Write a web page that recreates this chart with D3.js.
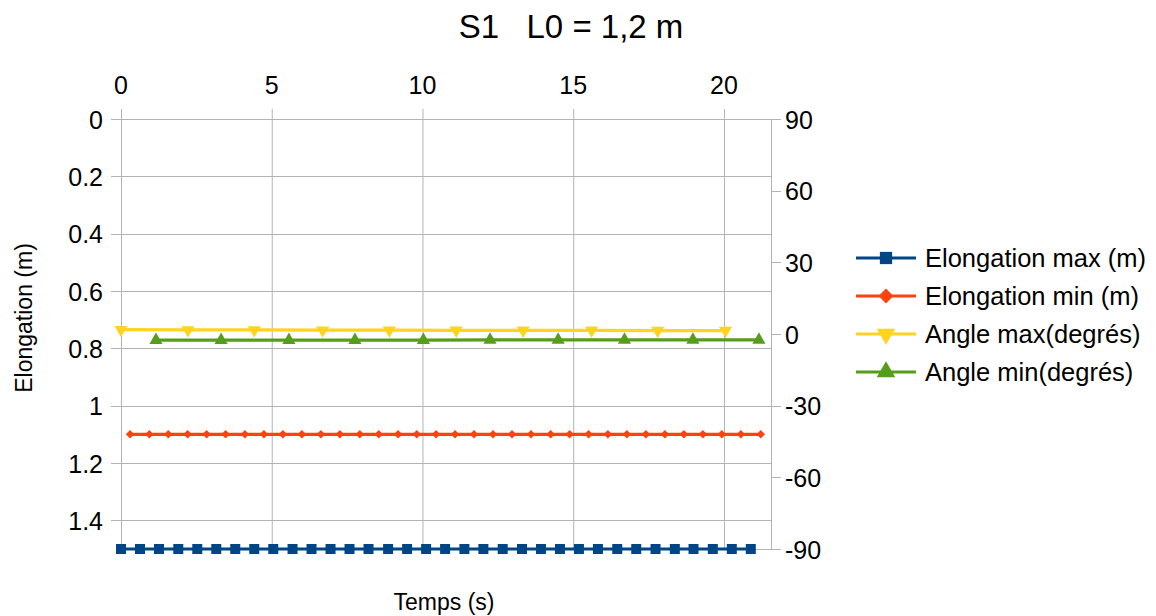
<!DOCTYPE html>
<html>
<head>
<meta charset="utf-8">
<script src="https://cdn.jsdelivr.net/npm/d3@7"></script>
<style>
  body { margin: 0; background: #fff; }
  text { font-family: "Liberation Sans", Arial, sans-serif; fill: #000; }
</style>
</head>
<body>
<svg id="chart" width="1156" height="616"></svg>
<script>
// series: time (s) and value
const elongMaxT = [0, 0.63, 1.26, 1.90, 2.53, 3.16, 3.79, 4.42, 5.05, 5.69, 6.32, 6.95, 7.58, 8.21, 8.86, 9.49, 10.12,
    10.75, 11.39, 12.02, 12.66, 13.30, 13.93, 14.56, 15.19, 15.82, 16.46, 17.09, 17.73, 18.37, 18.99, 19.63, 20.26, 20.89];
const elongMaxV = [1.5, 1.5, 1.5, 1.5, 1.5, 1.5, 1.5, 1.5, 1.5, 1.5, 1.5, 1.5, 1.5, 1.5, 1.5, 1.5, 1.5,
    1.5, 1.5, 1.5, 1.5, 1.5, 1.5, 1.5, 1.5, 1.5, 1.5, 1.5, 1.5, 1.5, 1.5, 1.5, 1.5, 1.5];
const elongMinT = [0.30, 0.94, 1.57, 2.21, 2.84, 3.47, 4.11, 4.74, 5.37, 6.00, 6.63, 7.26, 7.92, 8.55, 9.19, 9.81, 10.45,
    11.08, 11.71, 12.34, 12.97, 13.60, 14.25, 14.88, 15.51, 16.15, 16.78, 17.41, 18.04, 18.67, 19.30, 19.93, 20.56, 21.22];
const elongMinV = [1.1, 1.1, 1.1, 1.1, 1.1, 1.1, 1.1, 1.1, 1.1, 1.1, 1.1, 1.1, 1.1, 1.1, 1.1, 1.1, 1.1,
    1.1, 1.1, 1.1, 1.1, 1.1, 1.1, 1.1, 1.1, 1.1, 1.1, 1.1, 1.1, 1.1, 1.1, 1.1, 1.1, 1.1];
const angleMaxT = [0, 2.22, 4.42, 6.69, 8.90, 11.12, 13.34, 15.61, 17.80, 20.05];
const angleMaxV = [1.8, 1.7, 1.7, 1.6, 1.6, 1.5, 1.5, 1.5, 1.4, 1.4];
const angleMinT = [1.16, 3.32, 5.57, 7.76, 10.03, 12.24, 14.50, 16.70, 18.97, 21.16];
const angleMinV = [-2.6, -2.6, -2.6, -2.6, -2.6, -2.5, -2.5, -2.5, -2.5, -2.5];

const xTicks = [0, 5, 10, 15, 20];
const leftTicks = [0, 0.2, 0.4, 0.6, 0.8, 1, 1.2, 1.4];
const rightTicks = [90, 60, 30, 0, -30, -60, -90];

const svg = d3.select("#chart");

// plot area
const pLeft = 121, pRight = 771, pTop = 119, pBottom = 549;

const x = d3.scaleLinear().domain([0, 21.56]).range([pLeft, pRight]);
const yL = d3.scaleLinear().domain([0, 1.5]).range([pTop, pBottom]);
const yR = d3.scaleLinear().domain([90, -90]).range([pTop, pBottom]);

// title
svg.append("text")
    .attr("x", 571).attr("y", 38)
    .attr("text-anchor", "middle")
    .attr("font-size", "33px")
    .style("white-space", "pre")
    .text("S1   L0 = 1,2 m");

// grid
const grid = svg.append("g").attr("stroke", "#b3b3b3").attr("stroke-width", 1);
xTicks.forEach(t => {
    grid.append("line").attr("x1", x(t) + 0.5).attr("x2", x(t) + 0.5).attr("y1", pTop - 10).attr("y2", pBottom);
});
leftTicks.forEach(t => {
    grid.append("line").attr("x1", pLeft - 10).attr("x2", pRight).attr("y1", Math.round(yL(t)) + 0.5).attr("y2", Math.round(yL(t)) + 0.5);
});
rightTicks.forEach(t => {
    grid.append("line").attr("x1", pRight).attr("x2", pRight + 10).attr("y1", Math.round(yR(t)) + 0.5).attr("y2", Math.round(yR(t)) + 0.5);
});
// frame
grid.append("line").attr("x1", pLeft + 0.5).attr("x2", pLeft + 0.5).attr("y1", pTop).attr("y2", pBottom);
grid.append("line").attr("x1", pRight + 0.5).attr("x2", pRight + 0.5).attr("y1", pTop).attr("y2", pBottom);
grid.append("line").attr("x1", pLeft).attr("x2", pRight + 10).attr("y1", pBottom + 0.5).attr("y2", pBottom + 0.5);

// tick labels
const fmt = d => String(d);
svg.append("g").selectAll("text").data(xTicks).join("text")
    .attr("x", d => x(d)).attr("y", 94)
    .attr("text-anchor", "middle").attr("font-size", "25px")
    .text(fmt);
svg.append("g").selectAll("text").data(leftTicks).join("text")
    .attr("x", 103).attr("y", d => yL(d) + 9.5)
    .attr("text-anchor", "end").attr("font-size", "25px")
    .text(fmt);
svg.append("g").selectAll("text").data(rightTicks).join("text")
    .attr("x", 785).attr("y", d => yR(d) + 9.5)
    .attr("text-anchor", "start").attr("font-size", "25px")
    .text(fmt);

// axis titles
svg.append("text")
    .attr("transform", "translate(32, 318) rotate(-90)")
    .attr("text-anchor", "middle").attr("font-size", "23px")
    .text("Elongation (m)");
svg.append("text")
    .attr("x", 444).attr("y", 610)
    .attr("text-anchor", "middle").attr("font-size", "23px")
    .text("Temps (s)");

// series (diamond = square turned 45°)
const series = [
    { name: "Elongation max (m)", t: elongMaxT, v: elongMaxV, y: yL, color: "#004586", marker: d3.symbolSquare, size: 100, rot: 0, lsize: 150 },
    { name: "Elongation min (m)", t: elongMinT, v: elongMinV, y: yL, color: "#ff420e", marker: d3.symbolSquare, size: 36, rot: 45, lsize: 110 },
    { name: "Angle max(degrés)", t: angleMaxT, v: angleMaxV, y: yR, color: "#ffd320", marker: d3.symbolTriangle, size: 75, rot: 180, lsize: 150 },
    { name: "Angle min(degrés)", t: angleMinT, v: angleMinV, y: yR, color: "#579d1c", marker: d3.symbolTriangle, size: 75, rot: 0, lsize: 150 }
];

series.forEach(s => {
    const pts = s.t.map((t, i) => [t, s.v[i]]);
    const line = d3.line().x(d => x(d[0])).y(d => s.y(d[1]));
    svg.append("path")
        .attr("d", line(pts))
        .attr("fill", "none")
        .attr("stroke", s.color)
        .attr("stroke-width", 3.2);
    svg.append("g").selectAll("path").data(pts).join("path")
        .attr("d", d3.symbol().type(s.marker).size(s.size))
        .attr("transform", d => `translate(${x(d[0])},${s.y(d[1])}) rotate(${s.rot})`)
        .attr("fill", s.color);
});

// legend
const legend = svg.append("g");
series.forEach((s, i) => {
    const ly = 258 + i * 38;
    legend.append("line")
        .attr("x1", 856).attr("x2", 916).attr("y1", ly).attr("y2", ly)
        .attr("stroke", s.color).attr("stroke-width", 3.2);
    legend.append("path")
        .attr("d", d3.symbol().type(s.marker).size(s.lsize))
        .attr("transform", `translate(886,${ly}) rotate(${s.rot})`)
        .attr("fill", s.color);
    legend.append("text")
        .attr("x", 925).attr("y", ly + 9)
        .attr("font-size", "25.5px")
        .text(s.name);
});
</script>
</body>
</html>
